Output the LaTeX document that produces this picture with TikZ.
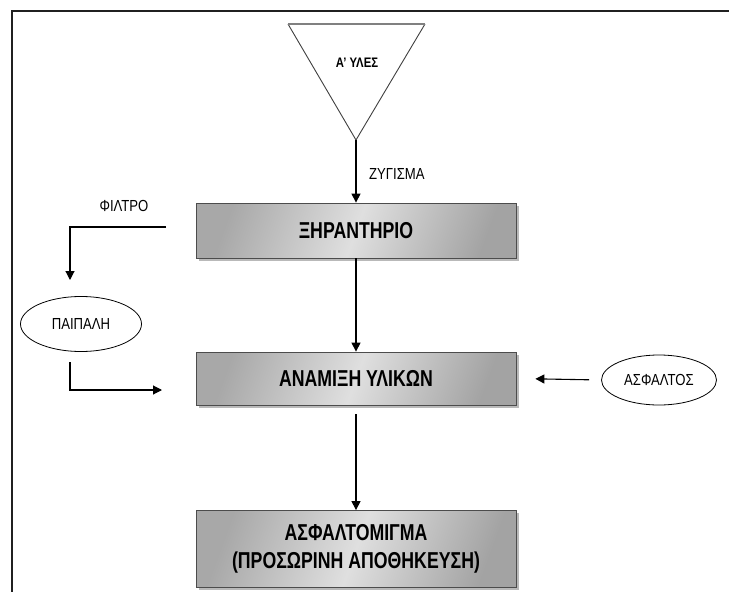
\documentclass[tikz,border=0pt]{standalone}
\usepackage{fontspec}
\setmainfont{Liberation Sans}[FakeStretch=0.82]
\newfontfamily\boxfont{Liberation Sans}[FakeStretch=0.77]
\usetikzlibrary{shapes.geometric,shadows,arrows.meta}

\begin{document}
\begin{tikzpicture}[x=1pt,y=-1pt,
 proc/.style={draw=gray!60!black, line width=0.8pt, minimum width=320pt, minimum height=55pt,
   left color=gray!68, right color=gray!72, middle color=gray!25, shading angle=70,
   drop shadow={shadow xshift=2.5pt, shadow yshift=-2.5pt, fill=gray!55, opacity=1},
   font=\boxfont\bfseries\fontsize{23}{28}\selectfont, align=center, inner sep=0pt},
 oval/.style={draw, ellipse, line width=0.8pt, inner sep=0pt, fill=white, font=\fontsize{16}{19}\selectfont},
 lbl/.style={font=\fontsize{16}{19}\selectfont, inner sep=0pt},
 flow/.style={line width=1.1pt, -{Triangle[length=9pt,width=9pt]}},
]
\useasboundingbox (0,0) rectangle (729,592);
\fill[white] (0,0) rectangle (729,592);
% frame
\draw[line width=1.4pt, gray!25!black] (12,592) -- (12,11) -- (729,11);

% raw materials funnel
\coordinate (tl) at (288,24);
\coordinate (tr) at (425,24);
\coordinate (apex) at (356,140);
\draw[line width=0.9pt, gray!50!black] (tl) -- (apex) -- (tr);
\draw[line width=2pt, gray] (tl) -- (tr);
\node[font=\fontsize{13.8}{16}\selectfont\bfseries, inner sep=0pt] (raw) at (357,63) {Α’ ΥΛΕΣ};

% process boxes
\node[proc] (dry) at (356,230.5) {ΞΗΡΑΝΤΗΡΙΟ};
\node[proc, minimum height=53pt] (mix) at (356,378.5) {ΑΝΑΜΙΞΗ ΥΛΙΚΩΝ};
\node[proc, minimum height=77pt] (asm) at (356,549) {ΑΣΦΑΛΤΟΜΙΓΜΑ\\(ΠΡΟΣΩΡΙΝΗ ΑΠΟΘΗΚΕΥΣΗ)};

% ellipses
\node[oval, minimum width=121pt, minimum height=55pt] (dust) at (81,324) {ΠΑΙΠΑΛΗ};
\node[oval, minimum width=115pt, minimum height=50pt] (bit) at (659,380) {ΑΣΦΑΛΤΟΣ};

% main flow
\draw[flow] (apex) -- (dry.north);
\node[lbl, anchor=west] (zyg) at (369,174) {ΖΥΓΙΣΜΑ};
\draw[flow] (dry.south) -- (mix.north);
\draw[flow, shorten <=9pt] (mix.south) -- (asm.north);

% filter / dust
\coordinate (f1) at (166,227);
\coordinate (f2) at (70,280);
\draw[flow] (f1) -| (f2);
\node[lbl] (filt) at (124,206) {ΦΙΛΤΡΟ};
\coordinate (d1) at (70,362);
\coordinate (d2) at (162,390);
\draw[flow] (d1) |- (d2);

% bitumen
\draw[flow, shorten <=12pt, shorten >=19pt] (bit.west) -- (mix.east);
\end{tikzpicture}
\end{document}
